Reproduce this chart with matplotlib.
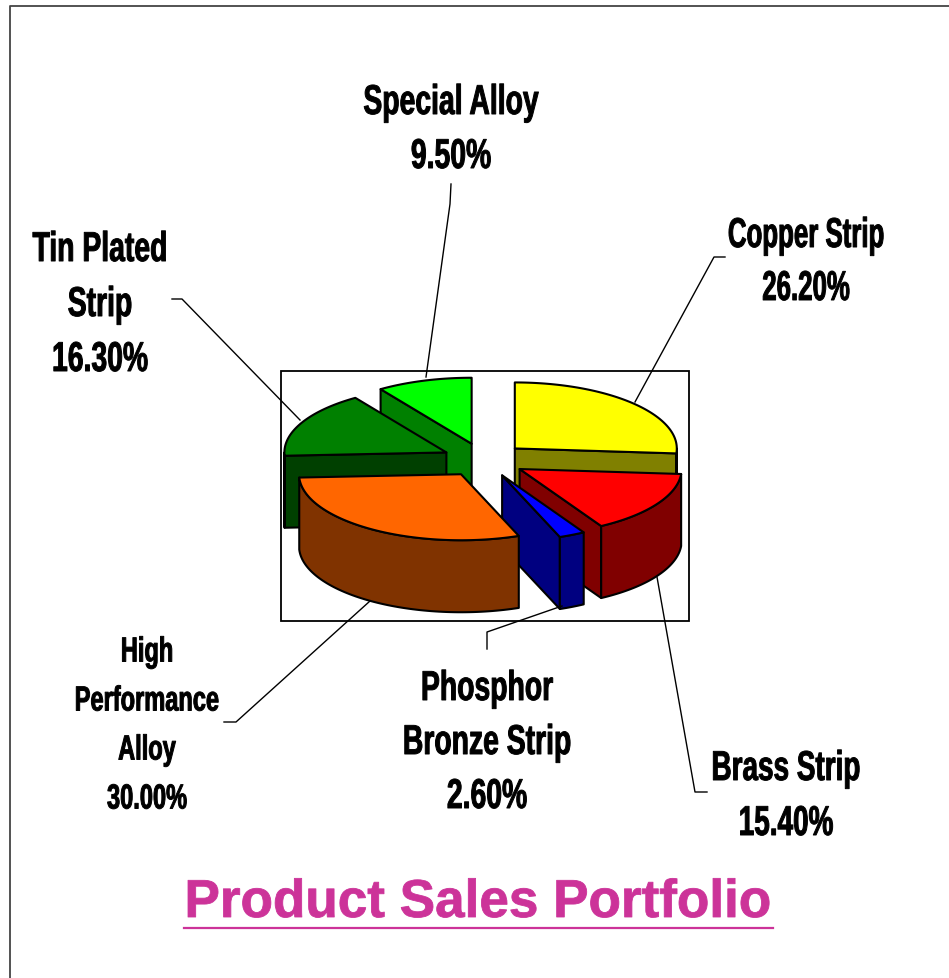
import numpy as np
import matplotlib
matplotlib.use('Agg')
import matplotlib.pyplot as plt
from matplotlib.patches import Polygon, Rectangle
from matplotlib.patheffects import AbstractPathEffect
from matplotlib.transforms import Affine2D

categories = ['Copper Strip', 'Brass Strip', 'Phosphor\nBronze Strip',
              'High\nPerformance\nAlloy', 'Tin Plated\nStrip', 'Special Alloy']
values = [26.2, 15.4, 2.6, 30.0, 16.3, 9.5]
top_colors = ['#FFFF00', '#FF0000', '#0000FF', '#FF6600', '#008000', '#00FF00']
side_colors = ['#808000', '#800000', '#000080', '#803300', '#004000', '#008000']

# far slices first so the near ones cover them
draw_order = [5, 4, 0, 1, 2, 3]

# pie geometry in image pixels
cx, cy = 484, 461
rx, ry = 162, 66
ex, ey = 42, 17
depth = 72

# label centre x, first line centre y, line step, size, squeeze
label_x = [806, 786, 487, 147, 100, 451]
label_y = [237, 770, 690, 653, 251, 104]
label_step = [53, 55, 54, 49, 55, 54]
label_size = [30, 30, 30, 25, 30, 30]
label_sx = [0.62, 0.67, 0.68, 0.68, 0.68, 0.68]

leaders = [
    ([725, 714, 635], [258, 258, 403]),
    ([707, 695, 657], [793, 793, 578]),
    ([487, 487, 562], [650, 633, 607]),
    ([224, 236, 370], [723, 723, 602]),
    ([172, 182, 300], [300, 300, 421]),
    ([451, 450, 426], [185, 205, 378]),
]


class Squeeze(AbstractPathEffect):
    # the labels in the original are a condensed bold, no such font here
    def __init__(self, sx, x0, stroke=0.7):
        super().__init__()
        self.sx = sx
        self.x0 = x0
        self.stroke = stroke

    def draw_path(self, renderer, gc, tpath, affine, rgbFace=None):
        squeeze = Affine2D().translate(-self.x0, 0).scale(self.sx, 1).translate(self.x0, 0)
        gc0 = renderer.new_gc()
        gc0.copy_properties(gc)
        gc0.set_linewidth(self.stroke)
        gc0.set_foreground(rgbFace)
        renderer.draw_path(gc0, tpath, affine + squeeze, rgbFace)
        gc0.restore()


fig = plt.figure(figsize=(9.49, 9.79), dpi=100)
ax = fig.add_axes([0, 0, 1, 1])
ax.set_xlim(0, 949)
ax.set_ylim(979, 0)
ax.axis('off')

# page frame, open on the right and at the bottom
ax.plot([10, 10, 949], [979, 7, 7], color='#444444', lw=1.3)
ax.add_patch(Rectangle((281, 371.5), 408, 250, fc='white', ec='black', lw=1.3))

for xs, ys in leaders:
    ax.plot(xs, ys, color='black', lw=1)


def rim(ax0, ay0, theta):
    return ax0 + rx * np.sin(theta), ay0 - ry * np.cos(theta)


edges = np.cumsum([0] + values) / np.sum(values) * 2 * np.pi
for i in draw_order:
    t0, t1 = edges[i], edges[i + 1]
    mid = (t0 + t1) / 2
    ax0 = cx + ex * np.sin(mid)
    ay0 = cy - ey * np.cos(mid)
    mx, my = rim(ax0, ay0, mid)

    # cut faces, only the ones turned towards the viewer
    for t in (t0, t1):
        bx, by = rim(ax0, ay0, t)
        if abs(bx - ax0) < 1:
            continue
        line_y = ay0 + (by - ay0) * (mx - ax0) / (bx - ax0)
        if my < line_y:
            ax.add_patch(Polygon([(ax0, ay0), (bx, by), (bx, by + depth), (ax0, ay0 + depth)],
                                 fc=side_colors[i], ec='black', lw=1.5, joinstyle='round'))

    # outer wall, front half of the rim only
    w0, w1 = max(t0, np.pi / 2), min(t1, 3 * np.pi / 2)
    if w1 > w0:
        th = np.linspace(w0, w1, 80)
        wx, wy = rim(ax0, ay0, th)
        pts = np.r_[np.c_[wx, wy], np.c_[wx, wy + depth][::-1]]
        ax.add_patch(Polygon(pts, fc=side_colors[i], ec='black', lw=1.5, joinstyle='round'))

    th = np.linspace(t0, t1, 80)
    tx, ty = rim(ax0, ay0, th)
    pts = np.r_[[(ax0, ay0)], np.c_[tx, ty]]
    ax.add_patch(Polygon(pts, fc=top_colors[i], ec='black', lw=1.5, joinstyle='round'))

for i, name in enumerate(categories):
    lines = name.split('\n') + [f'{values[i]:.2f}%']
    for j, line in enumerate(lines):
        ax.text(label_x[i], label_y[i] + j * label_step[i], line, family='Liberation Sans',
                fontweight='bold', fontsize=label_size[i], ha='center', va='center',
                color='black', path_effects=[Squeeze(label_sx[i], label_x[i])])

ax.text(478.5, 904, 'Product Sales Portfolio', family='Liberation Sans', fontweight='bold',
        fontsize=38.4, ha='center', va='center', color='#CC3399',
        path_effects=[Squeeze(0.995, 478.5, stroke=0.6)])
ax.plot([184, 773], [928.5, 928.5], color='#CC3399', lw=1.6)

fig.savefig('out.png', dpi=100)
